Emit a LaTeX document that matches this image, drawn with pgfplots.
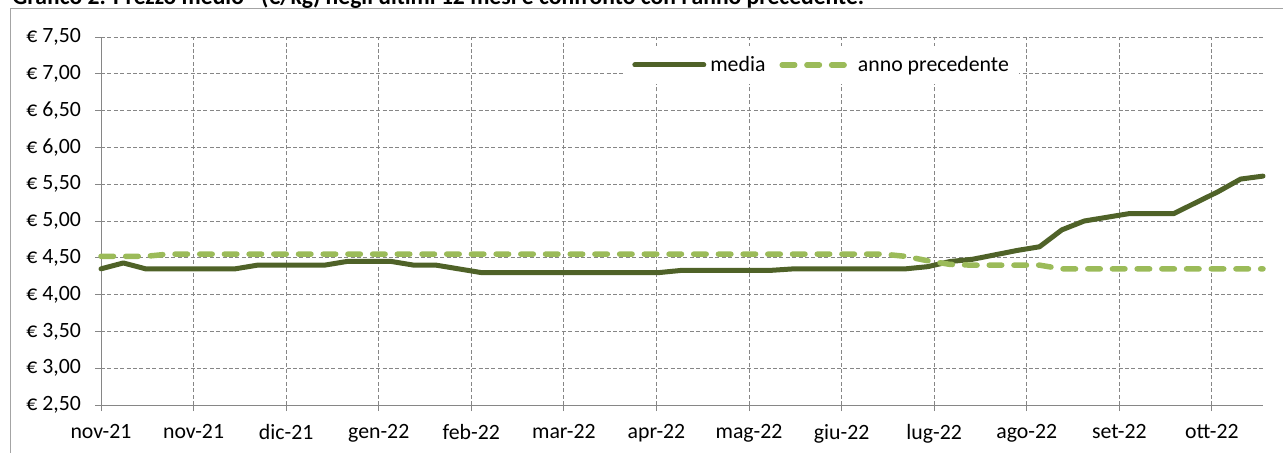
\documentclass[border=0pt]{standalone}
\usepackage{fontspec}
\setmainfont{Carlito}
\usepackage{pgfplots}
\usepackage{pgfplotstable}
\pgfplotsset{compat=1.18}
\definecolor{mediac}{HTML}{4F6228}
\definecolor{precc}{HTML}{9BBB59}
\definecolor{gridc}{HTML}{868686}
\newcommand{\lblfont}{\fontsize{10.9}{13}\selectfont}

% x = days from the first weekly observation
\pgfplotstableread{
x y
0 4.35
7 4.43
14 4.35
21 4.35
28 4.35
35 4.35
42 4.35
49 4.40
56 4.40
63 4.40
70 4.40
77 4.45
84 4.45
91 4.45
98 4.40
105 4.40
112 4.35
119 4.30
126 4.30
133 4.30
140 4.30
147 4.30
154 4.30
161 4.30
168 4.30
175 4.30
182 4.33
189 4.33
196 4.33
203 4.33
210 4.33
217 4.35
224 4.35
231 4.35
238 4.35
245 4.35
252 4.35
259 4.38
266 4.45
273 4.48
280 4.54
287 4.60
294 4.65
301 4.88
308 5.00
315 5.05
322 5.10
329 5.10
336 5.10
343 5.25
350 5.40
357 5.57
364 5.61
}\mediadata

\pgfplotstableread{
x y
0 4.52
7 4.52
14 4.52
21 4.55
28 4.55
35 4.55
42 4.55
49 4.55
56 4.55
63 4.55
70 4.55
77 4.55
84 4.55
91 4.55
98 4.55
105 4.55
112 4.55
119 4.55
126 4.55
133 4.55
140 4.55
147 4.55
154 4.55
161 4.55
168 4.55
175 4.55
182 4.55
189 4.55
196 4.55
203 4.55
210 4.55
217 4.55
224 4.55
231 4.55
238 4.55
245 4.55
252 4.52
259 4.46
266 4.41
273 4.40
280 4.40
287 4.40
294 4.40
301 4.35
308 4.35
315 4.35
322 4.35
329 4.35
336 4.35
343 4.35
350 4.35
357 4.35
364 4.35
}\precdata

\begin{document}
\begin{tikzpicture}
\path[use as bounding box] (0pt,0pt) rectangle (641.5pt,226pt);
\clip (0pt,0pt) rectangle (641.5pt,226pt);
\draw[color=gridc!75, line width=0.5pt] (5pt,-3pt) -- (5pt,221.75pt) -- (645pt,221.75pt);
\node[anchor=base west, font=\bfseries\fontsize{11.8}{13}\selectfont, inner sep=0pt] at (6pt,223.9pt)
  {Grafico 2. Prezzo medio* (€/kg) negli ultimi 12 mesi e confronto con l'anno precedente.};
\coordinate (A) at (50.5pt,23.5pt);
\begin{axis}[
  at={(A)}, anchor=south west,
  scale only axis, width=581pt, height=184pt,
  xmin=0, xmax=364, ymin=2.5, ymax=7.5,
  axis x line*=bottom, axis y line*=left,
  axis line style={gridc, line width=0.5pt, -},
  xtick={0,29,58,87,116,145,174,203,232,261,290,319,348},
  xticklabels={nov-21,nov-21,dic-21,gen-22,feb-22,mar-22,apr-22,mag-22,giu-22,lug-22,ago-22,set-22,ott-22},
  ytick={2.5,3,3.5,4,4.5,5,5.5,6,6.5,7,7.5},
  yticklabels={{€ 2,50},{€ 3,00},{€ 3,50},{€ 4,00},{€ 4,50},{€ 5,00},{€ 5,50},{€ 6,00},{€ 6,50},{€ 7,00},{€ 7,50}},
  grid=major,
  major grid style={gridc, line width=0.5pt, dash pattern=on 2pt off 1.2pt},
  tick align=outside, major tick length=3pt,
  tick style={gridc, line width=0.5pt},
  tick label style={font=\lblfont, text=black},
  xticklabel style={yshift=-3pt},
  yticklabel style={xshift=-3.5pt},
  legend style={at={(0.621,0.924)}, anchor=center, fill=white, draw=none,
    legend columns=2, font=\lblfont, inner sep=3pt,
    /tikz/every even column/.append style={column sep=5pt}},
  legend image code/.code={\draw[#1] (0pt,0pt) -- (34.5pt,0pt);},
  clip=false,
]
\addplot[color=mediac, line width=2.5pt, line join=round, line cap=round, no markers] table[x=x,y=y] {\mediadata};
\addlegendentry{media}
\addplot[color=precc, line width=2.75pt, dash pattern=on 6.25pt off 6.1pt, line cap=round, line join=round, no markers] table[x=x,y=y] {\precdata};
\addlegendentry{anno precedente}
\end{axis}
\end{tikzpicture}
\end{document}
